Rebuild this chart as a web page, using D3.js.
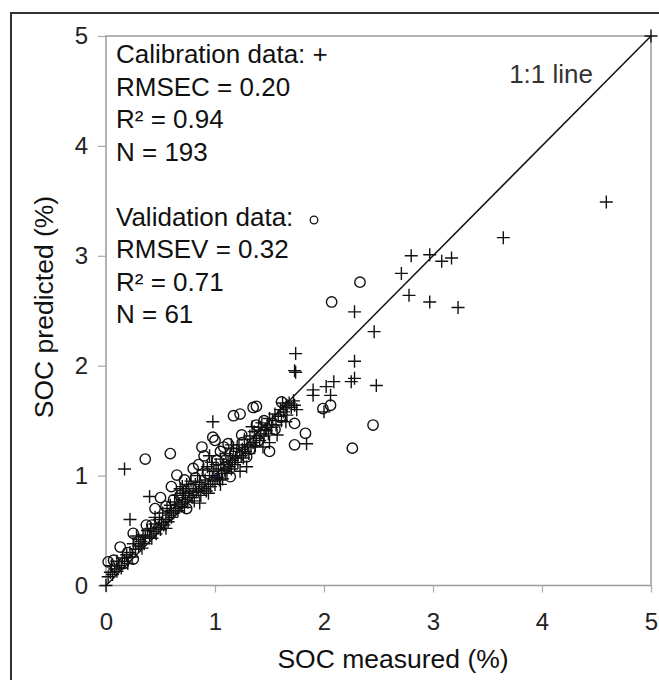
<!DOCTYPE html>
<html>
<head>
<meta charset="utf-8">
<script src="https://cdn.jsdelivr.net/npm/d3@7"></script>
<style>
  body { margin: 0; background: #fff; }
  text { font-family: "Liberation Sans", Arial, sans-serif; }
</style>
</head>
<body>
<div id="chart"></div>
<script>
// SOC measured vs predicted (%)
const tickValues = [0, 1, 2, 3, 4, 5];

// calibration samples: [measured, predicted]  (plotted as +)
const calibration = [
  [4.59,3.49],[3.645,3.165],[2.80,3.00],[2.97,3.01],[3.08,2.95],[3.17,2.98],[2.71,2.84],[2.78,2.64],
  [2.97,2.58],[3.23,2.53],[2.28,2.49],[2.46,2.31],[1.74,2.11],[1.73,1.955],[1.74,1.94],[2.28,2.04],
  [2.28,1.885],[2.25,1.855],[2.09,1.855],[2.02,1.81],[2.06,1.73],[2.48,1.82],[1.90,1.78],[1.90,1.73],
  [1.73,1.64],[1.66,1.64],[2.00,1.58],[0.98,1.49],[1.65,1.49],[1.84,1.29],[1.57,1.37],[1.34,1.445],
  [1.47,1.41],[5,5],[0,0],[0.17,1.06],[0.40,0.81],[0.22,0.60],
  [0.02,0.08],[0.04,0.12],[0.05,0.18],[0.06,0.10],[0.08,0.15],[0.10,0.13],[0.10,0.22],[0.12,0.18],
  [0.14,0.16],[0.15,0.25],[0.17,0.22],[0.19,0.28],[0.20,0.20],[0.22,0.30],[0.24,0.26],[0.25,0.38],
  [0.27,0.33],[0.28,0.45],[0.30,0.36],[0.30,0.42],
  [0.32,0.40],[0.34,0.46],[0.35,0.38],[0.36,0.44],[0.38,0.50],[0.40,0.45],[0.41,0.52],[0.42,0.43],
  [0.44,0.49],[0.45,0.56],[0.46,0.47],[0.48,0.53],[0.49,0.60],[0.50,0.51],[0.51,0.57],[0.52,0.66],
  [0.53,0.55],[0.55,0.60],[0.56,0.70],[0.57,0.58],[0.58,0.64],[0.59,0.73],[0.60,0.62],[0.60,0.68],
  [0.62,0.66],[0.63,0.76],[0.64,0.70],[0.65,0.82],[0.66,0.68],[0.67,0.74],[0.68,0.88],[0.69,0.72],
  [0.70,0.78],[0.71,0.84],[0.72,0.71],[0.73,0.80],[0.74,0.92],[0.75,0.76],[0.76,0.86],[0.77,0.82],
  [0.78,0.95],[0.79,0.80],[0.80,0.88],[0.81,0.77],[0.82,0.92],[0.83,0.85],[0.84,1.00],[0.85,0.86],
  [0.86,0.94],[0.87,0.82],[0.88,0.90],[0.89,1.05],[0.90,0.88],
  [0.91,0.96],[0.92,0.86],[0.93,1.08],[0.94,0.92],[0.95,1.00],[0.96,0.90],[0.97,1.12],[0.98,0.95],
  [0.99,1.04],[1.00,0.92],[1.01,1.10],[1.02,0.98],[1.03,1.06],[1.04,0.96],[1.05,1.15],[1.06,1.02],
  [1.07,0.97],[1.08,1.10],[1.09,1.05],[1.10,1.20],[1.11,1.02],[1.12,1.12],[1.13,1.08],[1.14,1.18],
  [1.15,1.06],[1.16,1.14],[1.17,1.25],[1.18,1.10],[1.19,1.16],
  [1.20,1.22],[1.21,1.12],[1.22,1.28],[1.24,1.18],[1.25,1.24],[1.26,1.16],[1.27,1.33],[1.28,1.22],
  [1.30,1.28],[1.31,1.20],[1.32,1.36],[1.33,1.26],[1.35,1.30],[1.36,1.40],[1.37,1.27],[1.38,1.34],
  [1.40,1.44],[1.41,1.32],[1.42,1.38],[1.43,1.48],[1.45,1.36],[1.46,1.42],[1.48,1.46],[1.49,1.38],
  [1.50,1.52],[1.52,1.44],[1.53,1.50],[1.55,1.56],[1.56,1.46],[1.58,1.54],[1.60,1.60],[1.61,1.50],
  [1.63,1.58],[1.65,1.62],[1.66,1.55],[1.68,1.66],[1.70,1.62],[1.72,1.68],
  [0.86,0.75],[0.94,0.84],[1.23,1.04],[1.29,1.08],[1.44,1.26],[1.50,1.30],
  [0.45,0.62],[0.70,0.90],[0.95,1.18],[1.15,1.28],[1.05,0.92],[0.55,0.52],[0.33,0.34],[1.62,1.66],
  [1.75,1.60]
];

// validation samples: [measured, predicted]  (plotted as o)
const validation = [
  [2.33,2.76],[2.07,2.58],[2.45,1.46],[2.26,1.25],[2.06,1.64],[1.99,1.61],[1.61,1.67],[1.73,1.475],
  [1.83,1.385],[1.35,1.62],[1.38,1.63],[1.17,1.545],[1.23,1.56],[1.73,1.28],[1.60,1.53],[0.98,1.35],
  [0.36,1.15],[0.59,1.20],[0.88,1.26],[1.50,1.22],[0.65,1.005],[0.50,0.80],[0.60,0.90],[0.74,0.70],
  [0.37,0.55],[0.25,0.475],[0.13,0.35],[0.02,0.215],[0.07,0.23],[0.25,0.24],[0.16,0.20],[0.80,1.065],
  [1.08,1.26],[1.14,0.99],[1.245,1.37],[1.29,1.17],[1.00,1.32],[1.12,1.29],
  [0.30,0.40],[0.42,0.55],[0.55,0.72],[0.68,0.82],[0.72,0.96],[0.78,0.88],[0.85,1.10],[0.90,1.18],
  [0.93,1.02],[1.02,1.14],[1.05,1.22],[1.10,1.08],[1.18,1.20],[1.25,1.30],[1.32,1.24],[1.40,1.32],
  [1.45,1.50],[1.55,1.42],[0.20,0.30],[0.45,0.70],[0.62,0.78],[0.82,0.98],[1.38,1.46]
];

// the one blue sample hidden in the cloud
const highlighted = [[1.02, 0.99]];

const statsLines = [
  'Calibration data: +',
  'RMSEC = 0.20',
  'R\u00B2 = 0.94',
  'N = 193',
  '',
  'Validation data:',
  'RMSEV = 0.32',
  'R\u00B2 = 0.71',
  'N = 61'
];

const width = 659;
const height = 680;
const plot = { left: 106, right: 651, top: 36, bottom: 585.5 };

const svg = d3.select('#chart')
  .append('svg')
  .attr('width', width)
  .attr('height', height);

// outer frame (only top / left visible in the picture)
svg.append('rect')
  .attr('x', 11)
  .attr('y', 13)
  .attr('width', 700)
  .attr('height', 700)
  .attr('fill', 'none')
  .attr('stroke', '#333')
  .attr('stroke-width', 2);

const x = d3.scaleLinear().domain([0, 5]).range([plot.left, plot.right]);
const y = d3.scaleLinear().domain([0, 5]).range([plot.bottom, plot.top]);

const xAxis = svg.append('g')
  .attr('transform', `translate(0,${plot.bottom})`)
  .call(d3.axisBottom(x).tickValues(tickValues).tickFormat(d3.format('d')).tickSize(7).tickPadding(20));

const yAxis = svg.append('g')
  .attr('transform', `translate(${plot.left},0)`)
  .call(d3.axisLeft(y).tickValues(tickValues).tickFormat(d3.format('d')).tickSize(8).tickPadding(10));

[xAxis, yAxis].forEach(g => {
  g.select('.domain').remove();
  g.selectAll('.tick line').attr('stroke', '#aaa').attr('stroke-width', 1.2);
  g.selectAll('.tick text')
    .attr('fill', '#222')
    .style('font-size', '24px')
    .style('font-family', '"Liberation Sans", Arial, sans-serif');
});

// plot frame
svg.append('rect')
  .attr('x', plot.left)
  .attr('y', plot.top)
  .attr('width', plot.right - plot.left)
  .attr('height', plot.bottom - plot.top)
  .attr('fill', 'none')
  .attr('stroke', '#a0a0a0')
  .attr('stroke-width', 1.6);

// 1:1 line
svg.append('line')
  .attr('x1', x(0)).attr('y1', y(0))
  .attr('x2', x(5)).attr('y2', y(5))
  .attr('stroke', '#111')
  .attr('stroke-width', 1.5);

svg.append('text')
  .attr('x', 593)
  .attr('y', 83)
  .attr('text-anchor', 'end')
  .attr('fill', '#333')
  .style('font-size', '26px')
  .text('1:1 line');

// validation circles
svg.append('g')
  .selectAll('circle')
  .data(validation)
  .join('circle')
  .attr('cx', d => x(d[0]))
  .attr('cy', d => y(d[1]))
  .attr('r', 5.2)
  .attr('fill', 'none')
  .attr('stroke', '#111')
  .attr('stroke-width', 1.4);

svg.append('g')
  .selectAll('circle')
  .data(highlighted)
  .join('circle')
  .attr('cx', d => x(d[0]))
  .attr('cy', d => y(d[1]))
  .attr('r', 3.5)
  .attr('fill', '#2a3580');

// calibration crosses
svg.append('g')
  .selectAll('path')
  .data(calibration)
  .join('path')
  .attr('transform', d => `translate(${x(d[0])},${y(d[1])})`)
  .attr('d', 'M-6.5,0H6.5M0,-6.5V6.5')
  .attr('fill', 'none')
  .attr('stroke', '#111')
  .attr('stroke-width', 1.4);

// statistics block
const stats = svg.append('g').attr('transform', 'translate(116,0)');
stats.selectAll('text')
  .data(statsLines)
  .join('text')
  .attr('x', 0)
  .attr('y', (d, i) => 63 + i * 32.5)
  .attr('fill', '#111')
  .style('font-size', '26px')
  .text(d => d);

svg.append('circle')
  .attr('cx', 314)
  .attr('cy', 220)
  .attr('r', 3.8)
  .attr('fill', 'none')
  .attr('stroke', '#111')
  .attr('stroke-width', 1.3);

// axis titles
svg.append('text')
  .attr('x', 393)
  .attr('y', 668)
  .attr('text-anchor', 'middle')
  .attr('fill', '#111')
  .style('font-size', '26.5px')
  .text('SOC measured (%)');

svg.append('text')
  .attr('transform', 'translate(53,307) rotate(-90)')
  .attr('text-anchor', 'middle')
  .attr('fill', '#111')
  .style('font-size', '26.5px')
  .text('SOC predicted (%)');
</script>
</body>
</html>
